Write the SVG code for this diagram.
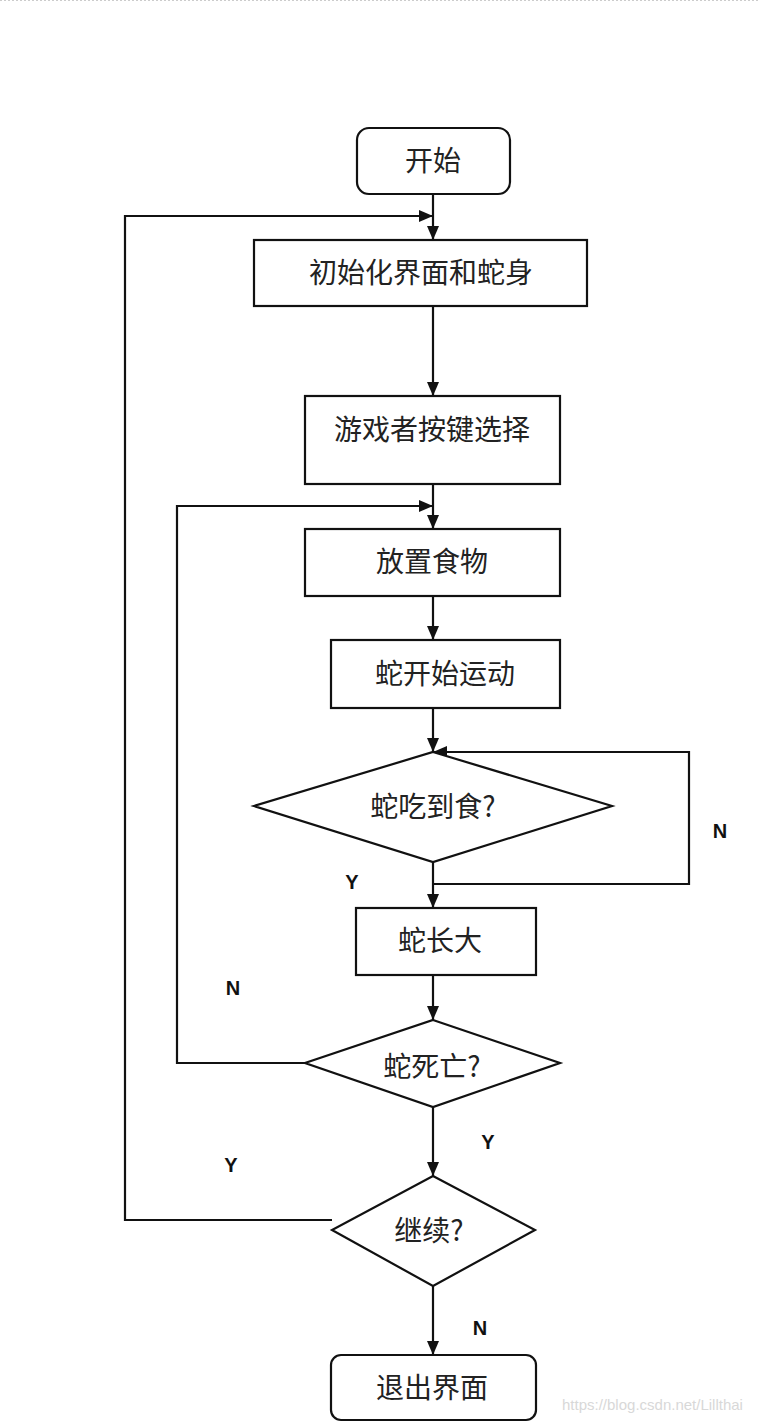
<svg xmlns="http://www.w3.org/2000/svg" width="760" height="1422" viewBox="0 0 760 1422">
<style>
.box{fill:#fff;stroke:#111;stroke-width:2.2}
.t{font-family:"Noto Sans CJK SC","Noto Sans",sans-serif;font-size:28px;fill:#222;text-anchor:middle}
.l{font-family:"Liberation Sans",Arial,sans-serif;font-size:20px;font-weight:bold;fill:#111;text-anchor:middle}
.c{fill:none;stroke:#111;stroke-width:2.2}
.wm{font-family:"Liberation Sans",Arial,sans-serif;font-size:15px;fill:#d8d8d8}
</style>
<defs>
<marker id="ah" viewBox="0 0 14 12" refX="14" refY="6" markerWidth="14" markerHeight="12" markerUnits="userSpaceOnUse" orient="auto">
<path d="M0,0 L14,6 L0,12 Z" fill="#111"/>
</marker>
</defs>
<rect width="760" height="1422" fill="#fff"/>
<line x1="0" y1="0.5" x2="760" y2="0.5" stroke="#ccc" stroke-dasharray="2,2"/>
<g id="connectors">
<line class="c" x1="433" y1="194" x2="433" y2="240" marker-end="url(#ah)"/>
<polyline class="c" points="332,1220 125,1220 125,216 433,216" marker-end="url(#ah)"/>
<line class="c" x1="433" y1="306" x2="433" y2="396" marker-end="url(#ah)"/>
<line class="c" x1="433" y1="484" x2="433" y2="529" marker-end="url(#ah)"/>
<polyline class="c" points="305,1063 177,1063 177,506 433,506" marker-end="url(#ah)"/>
<line class="c" x1="433" y1="596" x2="433" y2="640" marker-end="url(#ah)"/>
<line class="c" x1="433" y1="708" x2="433" y2="752" marker-end="url(#ah)"/>
<polyline class="c" points="433,884 689,884 689,752 433,752" marker-end="url(#ah)"/>
<line class="c" x1="433" y1="862" x2="433" y2="908" marker-end="url(#ah)"/>
<line class="c" x1="433" y1="975" x2="433" y2="1020" marker-end="url(#ah)"/>
<line class="c" x1="433" y1="1107" x2="433" y2="1176" marker-end="url(#ah)"/>
<line class="c" x1="433" y1="1286" x2="433" y2="1355" marker-end="url(#ah)"/>
<text class="l" x="720" y="838">N</text>
<text class="l" x="352" y="889">Y</text>
<text class="l" x="233" y="995">N</text>
<text class="l" x="488" y="1149">Y</text>
<text class="l" x="231" y="1172">Y</text>
<text class="l" x="480" y="1335">N</text>
</g>
<g id="start"><rect class="box" x="357" y="128" width="153" height="66" rx="12"/><text class="t" x="433" y="171">开始</text></g>
<g id="init"><rect class="box" x="254" y="240" width="333" height="66"/><text class="t" x="421" y="283">初始化界面和蛇身</text></g>
<g id="keys"><rect class="box" x="305" y="396" width="255" height="88"/><text class="t" x="432" y="440">游戏者按键选择</text></g>
<g id="food"><rect class="box" x="305" y="529" width="255" height="67"/><text class="t" x="432" y="572">放置食物</text></g>
<g id="move"><rect class="box" x="331" y="640" width="229" height="68"/><text class="t" x="445" y="684">蛇开始运动</text></g>
<g id="eat"><polygon class="box" points="433,752 612,806 433,862 254,806"/><text class="t" x="433" y="817">蛇吃到食?</text></g>
<g id="grow"><rect class="box" x="356" y="908" width="180" height="67"/><text class="t" x="440" y="951">蛇长大</text></g>
<g id="dead"><polygon class="box" points="433,1020 560,1063 433,1107 305,1063"/><text class="t" x="432" y="1077">蛇死亡?</text></g>
<g id="cont"><polygon class="box" points="433,1176 535,1230 433,1286 332,1230"/><text class="t" x="429" y="1241">继续?</text></g>
<g id="exit"><rect class="box" x="331" y="1355" width="205" height="65" rx="10"/><text class="t" x="432" y="1398">退出界面</text></g>
<text class="wm" x="562" y="1410">https://blog.csdn.net/Lillthai</text>
</svg>
